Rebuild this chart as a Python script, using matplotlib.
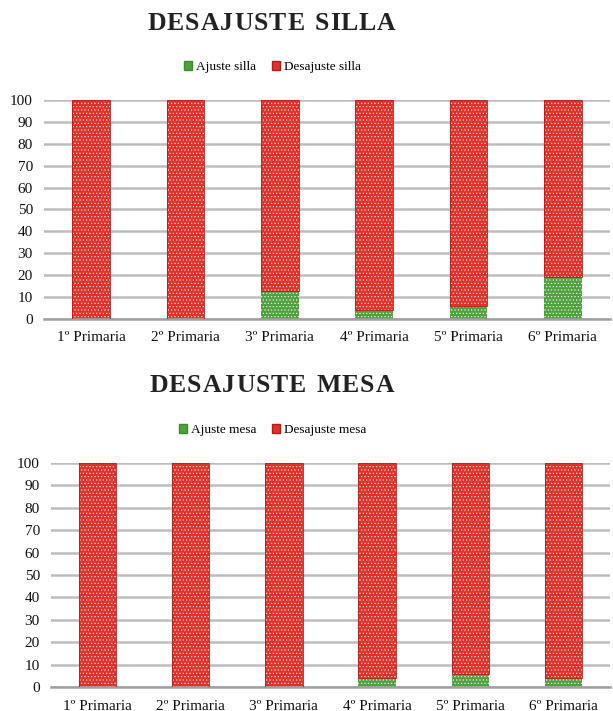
from matplotlib import pyplot as plt
from matplotlib.patches import Patch

# datos
cursos = ["1º Primaria", "2º Primaria", "3º Primaria", "4º Primaria", "5º Primaria", "6º Primaria"]
ajuste_silla = [0, 0, 13, 4, 6, 19]
desajuste_silla = [100, 100, 87, 96, 94, 81]
ajuste_mesa = [0, 0, 0, 4, 6, 4]
desajuste_mesa = [100, 100, 100, 96, 94, 96]
yticks = list(range(0, 101, 10))

plt.rcParams['font.family'] = ['Liberation Serif', 'DejaVu Serif']
plt.rcParams['hatch.linewidth'] = 0.5

ROJO = '#e2302a'
ROJO_BORDE = '#b01c16'
VERDE = '#4fa03e'
VERDE_BORDE = '#3f8a30'


def barras(ax, ajuste, desajuste):
	x = range(len(cursos))
	# relleno punteado: color de fondo + puntos blancos
	ax.bar(x, ajuste, width=0.4, color=VERDE, edgecolor='#e8f4e4', hatch='.....', lw=0, zorder=2)
	ax.bar(x, desajuste, width=0.4, bottom=ajuste, color=ROJO, edgecolor='#f8d8d4', hatch='.....', lw=0, zorder=2)
	ax.bar(x, desajuste, width=0.4, bottom=ajuste, fill=False, edgecolor=ROJO_BORDE, lw=0.6, zorder=3)
	ax.set_xlim(-0.5, len(cursos) - 0.5)
	ax.set_ylim(0, 100)
	ax.set_yticks(yticks)
	ax.set_xticks(list(x))
	ax.set_xticklabels(cursos, fontsize=11)
	ax.tick_params(axis='y', labelsize=11, length=0, pad=8, labelcolor='#111111')
	ax.tick_params(axis='x', length=0, pad=9, labelcolor='#111111')
	ax.grid(axis='y', color='#bdbdbd', lw=1.8, zorder=1)
	for s in ['top', 'right', 'left']:
		ax.spines[s].set_visible(False)
	ax.spines['bottom'].set_color('#a0a0a0')
	ax.spines['bottom'].set_linewidth(1.8)


def titulo(y, texto, espacio=1.0):
	# letras una a una para poder separarlas
	r = fig.canvas.get_renderer()
	letras = []
	for c in texto:
		t = fig.text(0, y, c, fontsize=18.5, fontweight='bold', color='#222222', va='center', ha='left')
		letras.append((t, t.get_window_extent(r).width if c != ' ' else 8))
	total = sum(w for _, w in letras) + espacio * (len(letras) - 1)
	x0 = 0.443 * fig.bbox.width - total / 2
	for t, w in letras:
		t.set_x(x0 / fig.bbox.width)
		x0 += w + espacio


def leyenda(y, txt1, txt2):
	h = [Patch(facecolor=VERDE, edgecolor=VERDE_BORDE, label=txt1),
		Patch(facecolor=ROJO, edgecolor=ROJO_BORDE, label=txt2)]
	fig.legend(handles=h, loc='center', bbox_to_anchor=(0.445, y), ncol=2, frameon=False,
		fontsize=9.5, handlelength=0.6, handleheight=0.6, handletextpad=0.3, columnspacing=1.2)


fig = plt.figure(figsize=(6.13, 7.11), dpi=100)

ax1 = fig.add_axes([44 / 613, 1 - 319 / 711, 566 / 613, 219 / 711])
barras(ax1, ajuste_silla, desajuste_silla)
titulo(1 - 23 / 711, "DESAJUSTE SILLA")
leyenda(1 - 67 / 711, "Ajuste silla", "Desajuste silla")

ax2 = fig.add_axes([51 / 613, 1 - 687 / 711, 559 / 613, 224 / 711])
barras(ax2, ajuste_mesa, desajuste_mesa)
titulo(1 - 386 / 711, "DESAJUSTE MESA")
leyenda(1 - 430 / 711, "Ajuste mesa", "Desajuste mesa")

plt.savefig("out.png", dpi=100)
plt.close()
